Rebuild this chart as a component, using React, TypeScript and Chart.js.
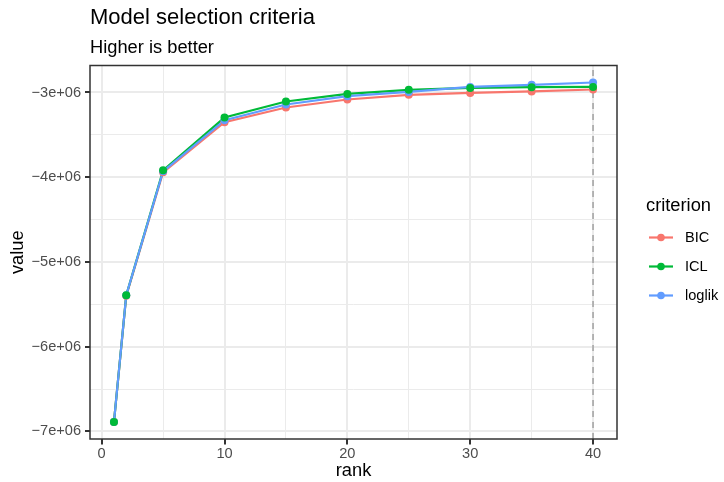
import React, { useEffect, useRef } from "react";
import { Chart, registerables } from "chart.js";

Chart.register(...registerables);

const ranks = [1, 2, 5, 10, 15, 20, 25, 30, 35, 40];
const bicValues = [-6.889e6, -5.4e6, -3.942e6, -3.351e6, -3.177e6, -3.083e6, -3.028e6, -3.005e6, -2.988e6, -2.965e6];
const iclValues = [-6.889e6, -5.392e6, -3.918e6, -3.296e6, -3.106e6, -3.017e6, -2.969e6, -2.946e6, -2.937e6, -2.934e6];
const loglikValues = [-6.889e6, -5.392e6, -3.93e6, -3.327e6, -3.142e6, -3.044e6, -2.993e6, -2.934e6, -2.91e6, -2.882e6];
const seriesNames = ["BIC", "ICL", "loglik"];
const seriesColors = ["#F8766D", "#00BA38", "#619CFF"];
const xMajorTicks = [0, 10, 20, 30, 40];
const xMinorTicks = [5, 15, 25, 35];
const yMajorTicks = [-7e6, -6e6, -5e6, -4e6, -3e6];
const yMinorTicks = [-6.5e6, -5.5e6, -4.5e6, -3.5e6];
const yTickLabels = ["\u22127e+06", "\u22126e+06", "\u22125e+06", "\u22124e+06", "\u22123e+06"];
const selectedRank = 40;
const titleText = "Model selection criteria";
const subtitleText = "Higher is better";
const xTitle = "rank";
const yTitle = "value";
const legendTitle = "criterion";

const FONT = '"Liberation Sans", Arial, Helvetica, sans-serif';
const f = (s: number) => `${s}px ${FONT}`;

const allSeries = [bicValues, iclValues, loglikValues];

function App() {
  const ref = useRef<HTMLCanvasElement | null>(null);

  useEffect(() => {
    const canvas = ref.current;
    if (!canvas) return;
    const allVals = allSeries.flat();
    const dMin = Math.min(...allVals);
    const dMax = Math.max(...allVals);
    const yPad = (dMax - dMin) * 0.05;
    const xMinD = Math.min(...ranks);
    const xMaxD = Math.max(...ranks);
    const xPad = (xMaxD - xMinD) * 0.05;

    const pts = (vals: number[]) => ranks.map((r, i) => ({ x: r, y: vals[i] }));

    // draw order: lines BIC, ICL, loglik, then points BIC, loglik, ICL (lower order = on top)
    const lineOrder = [5, 4, 3];
    const pointOrder = [2, 0, 1];
    const datasets: any[] = [];
    allSeries.forEach((vals, i) => {
      datasets.push({
        label: seriesNames[i] + " line",
        data: pts(vals),
        borderColor: seriesColors[i],
        backgroundColor: seriesColors[i],
        borderWidth: 2.2,
        pointRadius: 0,
        showLine: true,
        tension: 0,
        order: lineOrder[i],
      });
    });
    allSeries.forEach((vals, i) => {
      datasets.push({
        label: seriesNames[i],
        data: pts(vals),
        borderColor: seriesColors[i],
        backgroundColor: seriesColors[i],
        pointBackgroundColor: seriesColors[i],
        pointBorderWidth: 0,
        pointRadius: 4,
        showLine: false,
        order: pointOrder[i],
      });
    });

    const isMajorX = (v: number) => xMajorTicks.some((t) => Math.abs(t - v) < 1e-9);
    const isMajorY = (v: number) => yMajorTicks.some((t) => Math.abs(t - v) < 1);

    const decor = {
      id: "decor",
      beforeDatasetsDraw(chart: any) {
        const { ctx, chartArea, scales } = chart;
        const x = scales.x.getPixelForValue(selectedRank);
        ctx.save();
        ctx.strokeStyle = "#A6A6A6";
        ctx.lineWidth = 1.6;
        ctx.setLineDash([6, 5]);
        ctx.beginPath();
        ctx.moveTo(x, chartArea.bottom);
        ctx.lineTo(x, chartArea.top);
        ctx.stroke();
        ctx.restore();
      },
      afterDraw(chart: any) {
        const { ctx, chartArea } = chart;
        ctx.save();
        // panel border
        ctx.strokeStyle = "#333333";
        ctx.lineWidth = 1.5;
        ctx.strokeRect(chartArea.left, chartArea.top, chartArea.right - chartArea.left, chartArea.bottom - chartArea.top);
        // titles
        ctx.fillStyle = "#000000";
        ctx.textAlign = "left";
        ctx.textBaseline = "alphabetic";
        ctx.font = f(22);
        ctx.fillText(titleText, chartArea.left, 24);
        ctx.font = f(18.3);
        ctx.fillText(subtitleText, chartArea.left, 52.5);
        // axis titles
        ctx.textAlign = "center";
        ctx.fillText(xTitle, (chartArea.left + chartArea.right) / 2, 476);
        ctx.save();
        ctx.translate(22.5, (chartArea.top + chartArea.bottom) / 2);
        ctx.rotate(-Math.PI / 2);
        ctx.fillText(yTitle, 0, 0);
        ctx.restore();
        // legend
        ctx.textAlign = "left";
        ctx.font = f(18.3);
        ctx.fillText(legendTitle, 646, 211);
        const rowY = [237.5, 266.5, 295.5];
        seriesNames.forEach((name, i) => {
          const y = rowY[i];
          ctx.strokeStyle = seriesColors[i];
          ctx.lineWidth = 2.2;
          ctx.beginPath();
          ctx.moveTo(649, y);
          ctx.lineTo(673, y);
          ctx.stroke();
          ctx.fillStyle = seriesColors[i];
          ctx.beginPath();
          ctx.arc(661, y, 3.8, 0, Math.PI * 2);
          ctx.fill();
          ctx.fillStyle = "#000000";
          ctx.font = f(14.6);
          ctx.textBaseline = "middle";
          ctx.fillText(name, 685, y);
        });
        ctx.restore();
      },
    };

    const xTicksAll = [...xMajorTicks, ...xMinorTicks].sort((a, b) => a - b);
    const yTicksAll = [...yMajorTicks, ...yMinorTicks].sort((a, b) => a - b);

    const chart = new Chart(canvas, {
      type: "line",
      data: { datasets },
      plugins: [decor],
      options: {
        animation: false,
        responsive: false,
        devicePixelRatio: 1,
        layout: { padding: { left: 0, top: 65.5, right: 107, bottom: 0 } },
        plugins: { legend: { display: false }, tooltip: { enabled: false }, title: { display: false } },
        scales: {
          x: {
            type: "linear",
            min: xMinD - xPad,
            max: xMaxD + xPad,
            afterFit: (s: any) => {
              s.height = 43;
            },
            afterBuildTicks: (s: any) => {
              s.ticks = xTicksAll.map((v) => ({ value: v }));
            },
            border: { display: false },
            grid: {
              color: "#EBEBEB",
              lineWidth: (c: any) => (isMajorX(c.tick.value) ? 2 : 1),
              tickColor: (c: any) => (isMajorX(c.tick.value) ? "#333333" : "rgba(0,0,0,0)"),
              tickLength: 5.5,
              drawTicks: true,
            },
            ticks: {
              autoSkip: false,
              maxRotation: 0,
              padding: 1,
              color: "#4D4D4D",
              font: { family: FONT, size: 14.6 },
              callback: (v: any) => {
                const n = Number(v);
                return isMajorX(n) ? String(n) : "";
              },
            },
          },
          y: {
            type: "linear",
            min: dMin - yPad,
            max: dMax + yPad,
            afterFit: (s: any) => {
              s.width = 90;
            },
            afterBuildTicks: (s: any) => {
              s.ticks = yTicksAll.map((v) => ({ value: v }));
            },
            border: { display: false },
            grid: {
              color: "#EBEBEB",
              lineWidth: (c: any) => (isMajorY(c.tick.value) ? 2 : 1),
              tickColor: (c: any) => (isMajorY(c.tick.value) ? "#333333" : "rgba(0,0,0,0)"),
              tickLength: 5,
              drawTicks: true,
            },
            ticks: {
              autoSkip: false,
              padding: 4,
              color: "#4D4D4D",
              font: { family: FONT, size: 14.6 },
              callback: (v: any) => {
                const n = Number(v);
                const idx = yMajorTicks.findIndex((t) => Math.abs(t - n) < 1);
                return idx >= 0 ? yTickLabels[idx] : "";
              },
            },
          },
        },
      },
    } as any);

    return () => chart.destroy();
  }, []);

  return (
    <div style={{ position: "absolute", left: 0, top: 0, width: 724, height: 482, background: "#fff" }}>
      <canvas ref={ref} width={724} height={482} style={{ width: 724, height: 482, display: "block" }} />
    </div>
  );
}

export default App;
